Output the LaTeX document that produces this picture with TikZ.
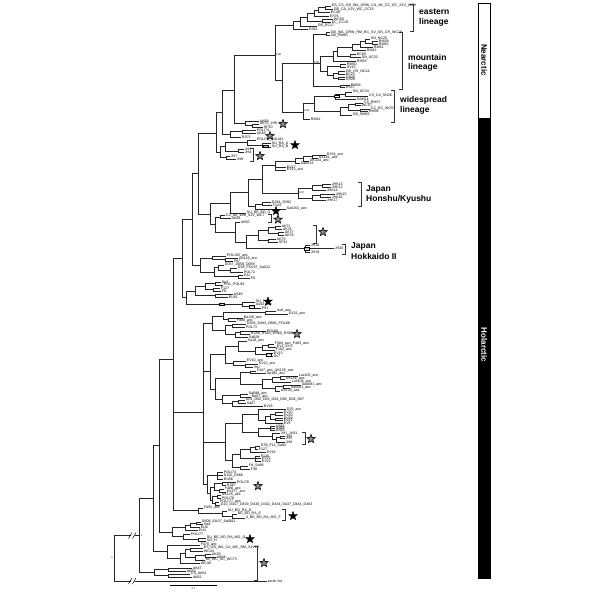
\documentclass[tikz,border=0pt]{standalone}
\usepackage{fontspec}
\setmainfont{Liberation Sans}
\usetikzlibrary{shapes.geometric}
\tikzset{
  br/.style={line width=0.75pt, draw=black!85},
  lab/.style={font=\fontsize{3.6}{3.8}\selectfont, anchor=west, inner sep=0.7pt},
  nl/.style={font=\fontsize{2.6}{2.8}\selectfont, inner sep=0.4pt},
  bx/.style={font=\fontsize{2.4}{2.6}\selectfont, inner sep=0.3pt, draw, line width=0.3pt, fill=white},
  brk/.style={line width=0.6pt, draw=black!80},
  bstar/.style={star, star points=5, star point ratio=2.4, minimum size=9pt, inner sep=0pt, fill=black, draw=black, line width=0.4pt},
  gstar/.style={star, star points=5, star point ratio=2.4, minimum size=9pt, inner sep=0pt, fill=black!45, draw=black, line width=0.6pt},
  big/.style={font=\fontsize{8.5}{10}\selectfont\bfseries, anchor=west, inner sep=0pt, align=left}
}
\newcommand{\Bn}[5]{\draw[br] (#2,#3) -| (#1,#5) -- (#4,#5);}
\newcommand{\Tn}[7]{\draw[br] (#2,#3) -| (#1,#7) -- (#6,#7); \draw[br] (#1,#5) -- (#4,#5);}
\newcommand{\Lf}[3]{\node[lab] at (#1,#2) {#3};}
\newcommand{\Brk}[3]{\draw[brk] (#1-3,#2) -- (#1,#2) -- (#1,#3) -- (#1-3,#3);}
\begin{document}
\begin{tikzpicture}[x=1pt,y=-1pt]
\useasboundingbox (0,0) rectangle (600,600);
\fill[white] (0,0) rectangle (600,600);
% ---------------- eastern lineage
\Bn{325}{331}{6}{333}{9.3}
\Bn{318}{325}{7.7}{330}{12.7}
\Bn{314}{318}{10}{329}{16}
\Bn{322}{333}{19.3}{331}{22.7}
\Bn{307}{314}{13}{322}{21}
\Bn{300}{307}{17}{317}{26}
\Bn{293}{300}{21.5}{308}{29.3}
\Lf{331}{6}{ES\_CS\_GB\_WA\_ORW\_CA\_AK\_CC\_EC\_SJV\_WC9}
\Lf{333}{9.3}{GB\_CA\_SJV\_WC\_CC15}
\Lf{330}{12.7}{EC48}
\Lf{329}{16}{ES76}
\Lf{333}{19.3}{WC50}
\Lf{331}{22.7}{EC\_CC19}
\Lf{317}{26}{GB\_EC17}
\Lf{308}{29.3}{ES81}
% ---------------- mountain lineage
\Bn{326}{330}{32.7}{330}{35.5}
\Bn{372}{378}{41.7}{378}{44.3}
\Bn{365}{370}{39}{372}{43}
\Bn{360}{365}{41}{373}{47}
\Bn{352}{360}{44}{366}{50}
\Bn{350}{356}{54.3}{361}{57.7}
\Bn{337}{352}{47}{350}{56}
\Bn{333}{337}{51.5}{356}{61.7}
\Bn{340}{346}{64.3}{346}{67.7}
\Bn{338}{345}{71.7}{345}{74.3}
\Bn{338}{345}{77}{345}{79.7}
\Bn{333}{338}{73}{338}{78.4}
\Bn{327}{340}{66}{333}{75.7}
\Bn{320}{333}{56.6}{327}{71}
\Bn{340}{350}{85}{345}{87.7}
\Tn{313}{326}{34}{320}{63.8}{340}{86.4}
\Lf{330}{32.7}{GB\_WA\_ORW\_RM\_BC\_SV\_SN\_CR\_WC19}
\Lf{330}{35.5}{GB\_RM60}
\Lf{370}{39}{SN\_NC25}
\Lf{378}{41.7}{RM39}
\Lf{378}{44.3}{RM62}
\Lf{373}{47}{RM61}
\Lf{366}{50}{RM42}
\Lf{356}{54.3}{BC60}
\Lf{361}{57.7}{SN\_SC32}
\Lf{356}{61.7}{RM53}
\Lf{346}{64.3}{RM50}
\Lf{346}{67.7}{SV15}
\Lf{345}{71.7}{GB\_CR\_NC24}
\Lf{345}{74.3}{BC23}
\Lf{345}{77}{CR25}
\Lf{345}{79.7}{CR26}
\Lf{350}{85}{RM59}
\Lf{345}{87.7}{ES57}
% ---------------- widespread lineage
\Bn{345}{352}{92}{368}{96}
\Bn{335}{345}{94}{356}{99}
\Bn{355}{363}{103}{361}{105.5}
\Bn{360}{370}{109}{368}{111.5}
\Bn{348}{355}{104.2}{360}{110.2}
\Bn{340}{348}{107.2}{352}{115}
\Bn{314}{335}{96.5}{340}{111}
\Bn{303}{314}{103.7}{310}{119.5}
\Lf{352}{92}{SN\_SC34}
\Lf{368}{96}{CS\_CA\_SN36}
\Lf{356}{99}{SA4G4}
\Lf{363}{103}{CS\_RM37}
\Lf{361}{105.5}{WC57}
\Lf{370}{109}{CC\_EC\_WC53}
\Lf{368}{111.5}{RM58}
\Lf{352}{115}{GB\_RM63}
\Lf{310}{119.5}{RM41}
\Bn{282}{313}{63}{303}{112}
\Bn{275}{293}{25}{282}{80}
% ---------------- AK69 / RS71 / JH
\Bn{252}{259}{124}{263}{127}
\Bn{245}{259}{121}{252}{125.5}
\Bn{234}{275}{55}{245}{123}
\Bn{242}{256}{130}{256}{133}
\Bn{230}{242}{131.5}{241}{137}
\Bn{222}{234}{90}{230}{134}
\Bn{262}{271}{143.5}{271}{147}
\Bn{247}{256}{140}{262}{145.2}
\Bn{238}{244}{149.5}{244}{152.5}
\Bn{225}{247}{142.6}{238}{151}
\Bn{226}{230}{156}{236}{159}
\Bn{220}{225}{146.8}{226}{157.5}
\Bn{216}{222}{112}{220}{152}
\Lf{259}{121}{AK69}
\Lf{259}{124}{AK70\_JH5}
\Lf{263}{127}{SP10}
\Lf{256}{130}{POLI74}
\Lf{256}{133}{AK48}
\Lf{241}{137}{RS71}
\Lf{256}{140}{POLI75\_POLI81}
\Lf{271}{143.5}{SU\_RA\_A}
\Lf{271}{147}{SU\_RA\_B}
\Lf{244}{149.5}{JH3}
\Lf{244}{152.5}{JH4}
\Lf{230}{156}{JH7}
\Lf{236}{159}{JH8}
% ---------------- Japan Honshu/Kyushu
\Bn{312}{326}{155}{318}{158}
\Bn{303}{312}{156.5}{309}{161}
\Bn{295}{303}{158.7}{300}{163}
\Tn{275}{295}{161}{286}{167}{286}{170}
\Bn{322}{331}{184}{331}{187}
\Bn{312}{322}{185.5}{326}{190}
\Bn{320}{335}{194}{331}{197}
\Bn{312}{320}{195.5}{326}{200}
\Bn{298}{312}{188}{312}{198}
\Bn{262}{275}{165}{298}{193}
\Bn{262}{271}{202.5}{272}{205.5}
\Bn{255}{262}{204}{286}{209}
\Bn{248}{262}{179}{255}{206.5}
\Bn{230}{248}{192.7}{246}{213}
\Lf{326}{155}{D154\_anc}
\Lf{318}{158}{UK161\_anc}
\Lf{309}{161}{GK124\_anc}
\Lf{300}{163.5}{Sa0514}
\Lf{286}{167}{EV17}
\Lf{286}{170}{EV13\_anc}
\Lf{331}{184}{JHK13}
\Lf{331}{187}{JHK12}
\Lf{326}{190}{JHK14}
\Lf{335}{194}{JHK15}
\Lf{331}{197}{JHK16}
\Lf{326}{200}{JHK17}
\Lf{271}{202.5}{D284\_D392}
\Lf{272}{205.5}{F124}
\Lf{286}{209}{Sa0101\_anc}
\Lf{246}{213}{SU\_BE\_BD\_G}
% ---------------- AK / Hokkaido
\Bn{220}{225}{215.5}{231}{218.5}
\Bn{275}{281}{226}{282}{229}
\Bn{278}{284}{232}{284}{235}
\Bn{268}{275}{227.5}{278}{233.5}
\Bn{268}{276}{239}{278}{242}
\Bn{258}{268}{230.5}{268}{240.5}
\Tn{305}{310}{245}{334}{248.5}{310}{252}
\Bn{246}{258}{235.5}{305}{248.5}
\Bn{235}{240}{222}{246}{242}
\Bn{215}{220}{217}{235}{232}
\Bn{210}{230}{203}{215}{224.5}
\Bn{198}{216}{133}{210}{214}
\Lf{225}{215.5}{CA\_AK\_WM\_SJV\_WC7}
\Lf{231}{218.5}{AK64}
\Lf{240}{222}{AK50}
\Lf{281}{226}{AK71}
\Lf{282}{229}{AK74}
\Lf{284}{232}{AK77}
\Lf{284}{235}{AK76}
\Lf{276}{239}{AK75}
\Lf{278}{242}{SP11}
\Lf{310}{245}{JH18}
\Lf{334}{248.5}{JH20}
\Lf{310}{252}{JH19}
% ---------------- POL group
\Bn{225}{238}{258.5}{233}{261}
\Bn{212}{226}{256}{225}{259.7}
\Bn{230}{237}{268}{243}{272}
\Bn{218}{224}{265}{230}{270}
\Bn{238}{243}{275}{250}{278}
\Bn{214}{218}{267.5}{238}{276.5}
\Bn{200}{212}{257.9}{214}{272}
\Bn{192}{198}{173}{200}{265}
\Lf{226}{256}{POL105\_anc}
\Lf{238}{258.5}{UK119\_anc}
\Lf{233}{261}{F97}
\Lf{224}{265}{D057\_D058\_D059}
\Lf{237}{268}{D58\_POL97\_Sa012}
\Lf{243}{272}{POL72}
\Lf{243}{275}{D11}
\Lf{250}{278}{F8}
% ---------------- Su5 group
\Bn{215}{221}{282}{223}{285}
\Bn{213}{220}{288}{221}{291}
\Bn{205}{215}{283.5}{213}{289.5}
\Bn{215}{233}{294}{228}{297}
\Bn{195}{205}{286.5}{215}{295.5}
\Bn{250}{255}{305}{261}{308}
\Bn{242}{255}{302}{250}{306.5}
\Bn{186}{195}{291}{242}{304.2}
\Bn{182}{192}{219}{186}{297.6}
\Lf{221}{282}{Su5}
\Lf{223}{285}{POL\_POL69}
\Lf{220}{288}{F127}
\Lf{221}{291}{F8}
\Lf{233}{294}{AS48}
\Lf{228}{297}{EU51}
\Lf{255}{302}{SU\_I}
\Lf{255}{305}{Au52\_anc}
\Lf{261}{308}{P91}
% ---------------- big clade Q
\Bn{265}{276}{311}{288}{314}
\Bn{228}{243}{318}{236}{321}
\Bn{223}{265}{312.5}{228}{319.5}
\Bn{232}{246}{324}{245}{327}
\Bn{240}{266}{331}{250}{334}
\Bn{235}{240}{332.5}{248}{337}
\Bn{225}{232}{325.5}{235}{334.7}
\Bn{212}{223}{316}{225}{330.1}
\Bn{268}{274}{344}{276}{347}
\Bn{262}{268}{345.5}{275}{350}
\Bn{268}{273}{353}{273}{356}
\Bn{255}{262}{347.7}{268}{354.5}
\Bn{238}{247}{341}{255}{351}
\Bn{245}{258}{364}{253}{367}
\Bn{233}{246}{361}{245}{365.5}
\Bn{225}{238}{346}{233}{363.2}
\Bn{250}{256}{371}{266}{373.5}
\Bn{280}{298}{376}{285}{379}
\Bn{272}{280}{377.5}{291}{382}
\Bn{283}{301}{385}{290}{388}
\Bn{275}{283}{386.5}{280}{391}
\Bn{262}{272}{379.7}{275}{388.7}
\Bn{240}{250}{372.2}{262}{384.2}
\Bn{240}{248}{394}{251}{397}
\Bn{238}{245}{400}{246}{403}
\Bn{232}{238}{401.5}{263}{406}
\Bn{222}{240}{395.5}{232}{403.7}
\Bn{215}{240}{378.2}{222}{399.6}
\Bn{210}{225}{354.6}{215}{388.9}
\Bn{275}{283}{412.7}{283}{415.3}
\Bn{275}{283}{418}{283}{420.7}
\Bn{270}{275}{414}{275}{419.3}
\Bn{265}{270}{416.7}{283}{423.3}
\Bn{258}{286}{409.3}{265}{420}
\Tn{270}{275}{426}{275}{428.3}{275}{430.7}
\Bn{280}{285}{436}{285}{438.7}
\Bn{276}{280}{437.3}{285}{442}
\Bn{272}{280}{433.3}{276}{439.7}
\Bn{258}{270}{428.3}{272}{436.5}
\Bn{242}{258}{414.6}{258}{432.4}
\Bn{255}{260}{446}{258}{449}
\Bn{250}{255}{447.5}{266}{452}
\Tn{255}{260}{456}{261}{458.5}{261}{461}
\Bn{240}{250}{449.7}{255}{458.5}
\Bn{240}{248}{466}{250}{469}
\Bn{232}{240}{454.1}{240}{467.5}
\Bn{225}{242}{423.5}{232}{460.8}
\Tn{217}{223}{472.5}{223}{475.7}{223}{479}
\Bn{222}{236}{482}{226}{485}
\Bn{219}{224}{489}{226}{492}
\Bn{217}{221}{495}{221}{498}
\Bn{215}{219}{502}{220}{505}
\Bn{214}{222}{483.5}{219}{490.5}
\Bn{212}{217}{496.5}{215}{503.5}
\Bn{210}{214}{487}{212}{500}
\Bn{207}{217}{475.7}{210}{493.5}
\draw[br] (212,323) -| (203,484.6) -- (207,484.6);
\draw[br] (203,371.7) -- (210,371.7);
\draw[br] (203,442.2) -- (225,442.2);
\Lf{276}{311}{Au8\_anc}
\Lf{288}{314}{D133\_anc}
\Lf{243}{318}{Be116\_anc}
\Lf{236}{321}{Fd88\_anc}
\Lf{246}{324}{D456\_D493\_D666\_POL88}
\Lf{245}{327}{POL71}
\Lf{266}{331}{POL80}
\Lf{250}{334}{RS58\_RS63\_RS60\_RS66}
\Lf{248}{337}{Sa829}
\Lf{247}{341}{Sa18\_anc}
\Lf{274}{344}{F484\_anc\_F483\_anc}
\Lf{276}{347}{EV1\_EV2}
\Lf{275}{350}{F182\_anc}
\Lf{273}{353}{EV13}
\Lf{273}{356}{Sv7}
\Lf{246}{361}{EV10\_anc}
\Lf{258}{364}{EV12\_anc}
\Lf{253}{367}{Ve1}
\Lf{256}{371}{F447\_anc\_UK135\_anc}
\Lf{266}{373.5}{Sp182\_anc}
\Lf{298}{376}{Lux105\_anc}
\Lf{285}{379}{UK156\_anc}
\Lf{291}{382}{Lux108\_anc}
\Lf{301}{385}{Sa0081\_anc}
\Lf{290}{388}{Sa0001\_anc}
\Lf{280}{391}{UK120\_anc}
\Lf{248}{394}{Sa088\_anc}
\Lf{251}{397}{Be07\_anc}
\Lf{245}{400}{D01\_D02\_D03\_D04\_D05\_D06\_D07}
\Lf{246}{403}{Sa07}
\Lf{263}{406}{EV18}
\Lf{286}{409.3}{D25\_anc}
\Lf{283}{412.7}{EV10}
\Lf{283}{415.3}{EV20}
\Lf{283}{418}{EV19}
\Lf{283}{420.7}{EV21}
\Lf{283}{423.3}{EV5}
\Lf{275}{426}{AS82}
\Lf{275}{428.3}{AS69}
\Lf{275}{430.7}{AS63}
\Lf{280}{433.3}{JH1\_JH11}
\Lf{285}{436}{JH2}
\Lf{285}{438.7}{JH5}
\Lf{285}{442}{JH6}
\Lf{260}{446}{D39\_F12\_Sa82}
\Lf{258}{449}{F127}
\Lf{266}{452}{EV16}
\Lf{260}{456}{F125}
\Lf{261}{458.5}{EV23}
\Lf{261}{461}{EV22}
\Lf{248}{466}{Fd\_Sa88}
\Lf{250}{469}{F48}
\Lf{223}{472.5}{POLI73}
\Lf{223}{475.7}{D110\_D566}
\Lf{223}{479}{EU56}
\Lf{236}{482}{POLI76}
\Lf{226}{485}{RS67}
\Lf{224}{489}{F488\_anc}
\Lf{226}{492}{EV177\_anc}
\Lf{221}{495}{UK125\_anc}
\Lf{221}{498}{POLI78}
\Lf{219}{502}{POL177\_anc}
\Lf{220}{505}{D10\_D417\_D419\_D430\_D432\_D434\_D437\_D444\_D463}
% ---------------- F455 / SU_BD
\Bn{232}{237}{514}{245}{518}
\Bn{222}{227}{511}{232}{516}
\Bn{198}{203}{508}{222}{513.5}
\Lf{203}{508}{F455\_anc}
\Lf{227}{511}{SU\_BD\_RA\_D}
\Lf{237}{514}{BE\_BD\_RA\_E}
\Lf{245}{518}{II\_BE\_BD\_RA\_MO\_F}
% ---------------- D608 group
\Bn{196}{201}{522}{203}{524.5}
\Bn{190}{196}{523.2}{200}{527}
\Bn{185}{190}{525.1}{198}{530.5}
\Bn{198}{206}{538}{206}{541}
\Bn{183}{190}{534}{198}{539.5}
\Bn{172}{185}{527.8}{183}{536.7}
\Lf{201}{522}{D608\_EU07\_Sa0611}
\Lf{203}{524.5}{Sw1}
\Lf{200}{527}{EU3}
\Lf{198}{530.5}{EU4}
\Lf{190}{534}{POLI77}
\Lf{206}{538}{SU\_BE\_BD\_RA\_MO\_G}
\Lf{206}{541}{SO\_H}
% ---------------- F470 group
\Bn{190}{203}{548}{203}{551}
\Bn{205}{211}{554}{216}{557}
\Bn{195}{205}{555.5}{205}{560}
\Bn{185}{190}{549.5}{195}{557.7}
\Bn{180}{185}{553.6}{200}{563}
\Bn{167}{200}{545}{180}{558.3}
\Lf{200}{545}{F470\_anc}
\Lf{203}{548}{ES\_GB\_WA\_CA\_WC\_RM\_SJV29}
\Lf{203}{551}{WC44}
\Lf{211}{554}{AK39}
\Lf{216}{557}{AK58}
\Lf{205}{560}{MI\_WC\_SC\_WC73}
\Lf{200}{563}{WC46}
% ---------------- AK47 group
\Bn{168}{192}{568}{186}{571}
\Bn{168}{190}{574}{192}{577}
\Bn{154}{168}{569.5}{168}{575.5}
\Lf{192}{568}{AK47}
\Lf{186}{571}{AK63}
\Lf{190}{574}{CS\_AK61}
\Lf{192}{577}{AK62}
% ---------------- backbone
\draw[br] (182,258) -| (173,510.7) -- (198,510.7);
\draw[br] (173,412) -- (203,412);
\Bn{159}{173}{359}{172}{532.3}
\Bn{153}{159}{445.6}{167}{551.6}
\Bn{139}{153}{498.6}{154}{572.5}
\Bn{114}{139}{535.5}{267}{581}
\Lf{267}{581}{arctic fox}
\fill[white] (130.5,533) rectangle (134.5,538);
\fill[white] (130.5,578.5) rectangle (134.5,583.5);
\draw[line width=0.5pt] (128.5,538.5) -- (132,532.5) (132.5,538.5) -- (136,532.5);
\draw[line width=0.5pt] (128.5,584) -- (132,578) (132.5,584) -- (136,578);
% ---------------- node support labels
\node[nl, anchor=west] at (275.5,55) {0.99};
\node[nl, anchor=west] at (313.5,63) {0.99};
\node[nl, anchor=west] at (303.5,111) {0.99};
\node[nl, anchor=west] at (298.5,193) {0.97};
\node[nl, anchor=west] at (140,535.5) {1};
\node[nl, anchor=east] at (113.5,558) {1};
\node[bx] at (337,95.8) {0.99};
\node[bx] at (266,146.3) {1.00};
\node[bx] at (307,248.5) {1.00};
\node[bx] at (252,306.5) {1.00};
\node[bx] at (269,354.5) {1.00};
\node[bx] at (222,304.2) {1.00};
% ---------------- brackets
\Brk{413}{4}{31}
\Brk{402}{32}{89}
\Brk{394}{90}{122}
\Brk{253}{148}{161}
\Brk{271}{214.5}{222.5}
\Brk{361}{182}{206}
\Brk{316}{225}{243}
\Brk{345}{244}{254}
\Brk{305}{432}{444}
\Brk{285}{509}{520}
\Brk{257}{546}{580}
% ---------------- stars
\node[gstar] at (283,124) {};
\node[gstar] at (270,136) {};
\node[bstar] at (295,145) {};
\node[gstar] at (260,156) {};
\node[bstar] at (276,211) {};
\node[gstar] at (278,219.5) {};
\node[gstar] at (323,232) {};
\node[bstar] at (268,301.5) {};
\node[gstar] at (297,334) {};
\node[gstar] at (311,439) {};
\node[gstar] at (258,486) {};
\node[bstar] at (293,516) {};
\node[bstar] at (250,539) {};
\node[gstar] at (264,563) {};
% ---------------- group labels
\node[big] at (419,12) {eastern};
\node[big] at (419,22.5) {lineage};
\node[big] at (408,57) {mountain};
\node[big] at (408,67.5) {lineage};
\node[big] at (400,100) {widespread};
\node[big] at (400,110.5) {lineage};
\node[big] at (366,189) {Japan};
\node[big] at (366,199.5) {Honshu/Kyushu};
\node[big] at (351,246) {Japan};
\node[big] at (351,256.5) {Hokkaido II};
% ---------------- scale bar
\draw[line width=0.6pt] (170,585) -- (217,585);
\node[nl] at (193.5,589) {0.1};
% ---------------- distribution bar
\fill[black] (478.5,118) rectangle (490,578);
\draw[line width=0.6pt] (478.5,3) rectangle (490,578);
\node[font=\fontsize{8}{9}\selectfont\bfseries, rotate=-90, inner sep=0pt] at (484.2,60) {Nearctic};
\node[font=\fontsize{8}{9}\selectfont\bfseries, rotate=-90, inner sep=0pt, text=white] at (484.2,345) {Holarctic};
\end{tikzpicture}
\end{document}
